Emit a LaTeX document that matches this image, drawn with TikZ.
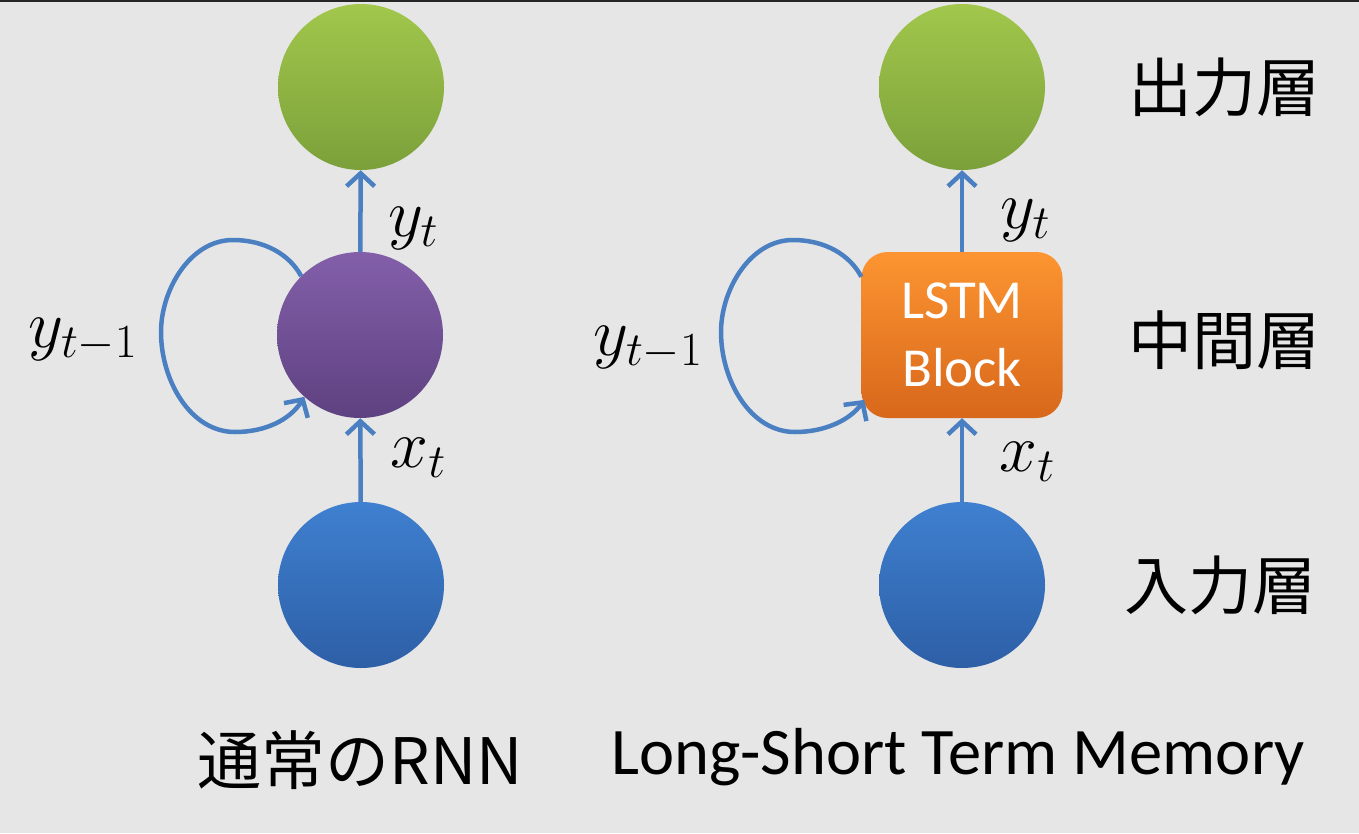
\RequirePackage{fix-cm}
\documentclass[tikz,border=0pt]{standalone}
\usepackage{fontspec}
\setmainfont{Carlito}
\newfontfamily\jp{Noto Sans CJK JP}
\usetikzlibrary{arrows.meta,calc}
\definecolor{bg}{HTML}{E6E6E6}
\definecolor{edge}{HTML}{4A80C2}
\definecolor{gtop}{HTML}{A2C74C}
\definecolor{gbot}{HTML}{7BA03A}
\definecolor{ptop}{HTML}{835FAA}
\definecolor{pbot}{HTML}{5E4180}
\definecolor{btop}{HTML}{3F80D0}
\definecolor{bbot}{HTML}{2D5FA6}
\definecolor{otop}{HTML}{FC9531}
\definecolor{obot}{HTML}{D8671B}
\begin{document}
\begin{tikzpicture}[x=1pt,y=-1pt,
  ball/.style={circle,minimum size=166pt,inner sep=0pt,draw=none},
  green ball/.style={ball,top color=gtop,bottom color=gbot},
  purple ball/.style={ball,top color=ptop,bottom color=pbot},
  blue ball/.style={ball,top color=btop,bottom color=bbot},
  lstmbox/.style={rectangle,rounded corners=26pt,minimum width=201pt,minimum height=166pt,
     inner sep=0pt,top color=otop,bottom color=obot,text=white,align=center,
     font=\fontsize{55}{68}\selectfont},
  conn/.style={draw=edge,line width=4.5pt,-{Straight Barb[length=13pt,width=28pt,line width=4.5pt]}},
  mathlbl/.style={inner sep=0pt,font=\fontsize{68}{70}\selectfont},
  jplbl/.style={inner sep=0pt,font=\jp\fontsize{64}{66}\selectfont},
  enlbl/.style={inner sep=0pt,font=\fontsize{66.5}{68}\selectfont}]
\useasboundingbox (0,0) rectangle (1359,833);
\fill[bg] (0,0) rectangle (1359,833);
\fill[black!85] (0,0) rectangle (1359,2);

% left column
\node[green ball] (g1) at (361,87) {};
\node[purple ball] (p1) at (360,335) {};
\node[blue ball] (b1) at (361,585) {};
\draw[conn] (b1) -- (p1);
\draw[conn] (p1) -- (g1);
\draw[conn] (p1.135) .. controls (290,255) and (265,240) .. (233,240)
  .. controls (190,240) and (161,290) .. (161,332)
  .. controls (161,380) and (190,432) .. (235,432)
  .. controls (265,432) and (290,420) .. (p1.228);
\node[mathlbl] (yt1) at (413,228) {$y_t$};
\node[mathlbl] (xt1) at (418,458) {$x_t$};
\node[mathlbl] (ytm1) at (83,340) {$y_{t-1}$};

% right column
\node[green ball] (g2) at (962,87) {};
\node[lstmbox] (l2) at (962,335) {LSTM\\Block};
\node[blue ball] (b2) at (962,585) {};
\draw[conn] (b2) -- (l2);
\draw[conn] (l2) -- (g2);
\draw[conn] ($(l2.north west)!0.15!(l2.south west)$) .. controls (850,255) and (825,240) .. (793,240)
  .. controls (750,240) and (721,290) .. (721,332)
  .. controls (721,380) and (750,432) .. (795,432)
  .. controls (825,432) and (850,420) .. ($(l2.north west)!0.89!(l2.south west)+(3,0)$);
\node[mathlbl] (yt2) at (1025,220) {$y_t$};
\node[mathlbl] (xt2) at (1027,462) {$x_t$};
\node[mathlbl] (ytm2) at (648,348) {$y_{t-1}$};

% layer labels
\node[jplbl] (out) at (1224,87) {出力層};
\node[jplbl] (mid) at (1224,340) {中間層};
\node[jplbl] (in) at (1220,585) {入力層};

% captions
\node[jplbl] (cap1) at (360,760) {通常のRNN};
\node[enlbl] (cap2) at (958,757) {Long-Short Term Memory};
\end{tikzpicture}
\end{document}
